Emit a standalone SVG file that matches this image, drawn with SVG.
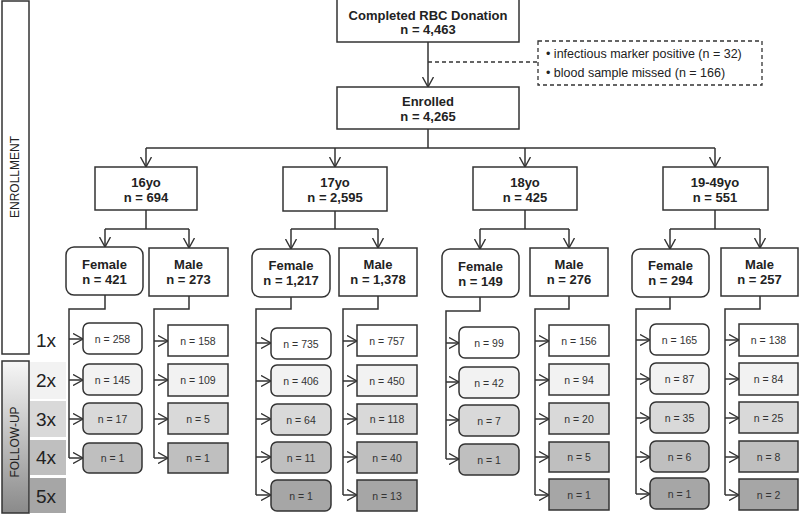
<svg xmlns="http://www.w3.org/2000/svg" width="800" height="515" viewBox="0 0 800 515">
<defs>
<marker id="arr" viewBox="0 0 10 12" refX="10" refY="6" markerWidth="10" markerHeight="12" markerUnits="userSpaceOnUse" orient="auto">
<path d="M0,0.5 L10,6 L0,11.5" fill="none" stroke="#333" stroke-width="1.4"/>
</marker>
<linearGradient id="fu" x1="0" y1="0" x2="0" y2="1">
<stop offset="0" stop-color="#f7f7f7"/>
<stop offset="1" stop-color="#8a8a8a"/>
</linearGradient>
</defs>
<style>
.box{fill:#fff;stroke:#333;stroke-width:1.5}
.r1{fill:#fff;stroke:#333;stroke-width:1.5}
.r2{fill:#f2f2f2;stroke:#333;stroke-width:1.5}
.r3{fill:#d9d9d9;stroke:#333;stroke-width:1.5}
.r4{fill:#bfbfbf;stroke:#333;stroke-width:1.5}
.r5{fill:#a6a6a6;stroke:#333;stroke-width:1.5}
.b{font-family:"Liberation Sans",Arial,sans-serif;font-weight:bold;font-size:13px;fill:#222;text-anchor:middle}
.n{font-family:"Liberation Sans",Arial,sans-serif;font-size:10.5px;fill:#333;text-anchor:middle}
.t{font-family:"Liberation Sans",Arial,sans-serif;font-size:12.5px;fill:#222}
.lbl{font-family:"Liberation Sans",Arial,sans-serif;font-size:19px;fill:#222;text-anchor:middle}
.side{font-family:"Liberation Sans",Arial,sans-serif;font-size:12px;fill:#222;text-anchor:middle}
.c{fill:none;stroke:#333;stroke-width:1.5}
.ca{fill:none;stroke:#333;stroke-width:1.5;marker-end:url(#arr)}
.d{fill:none;stroke:#333;stroke-width:1.3;stroke-dasharray:4,3}
</style>

<g id="phases">
<rect x="2" y="1" width="27" height="353" fill="#fff" stroke="#333" stroke-width="1.5"/>
<text class="side" transform="translate(19,177) rotate(-90)">ENROLLMENT</text>
<rect x="2" y="361" width="27" height="152" fill="url(#fu)" stroke="#333" stroke-width="1.5"/>
<text class="side" transform="translate(19,442) rotate(-90)">FOLLOW-UP</text>
<rect x="30" y="362" width="36" height="37" fill="#f2f2f2"/>
<rect x="30" y="401" width="36" height="36" fill="#d9d9d9"/>
<rect x="30" y="440" width="36" height="35" fill="#bfbfbf"/>
<rect x="30" y="478" width="36" height="35" fill="#a6a6a6"/>
<text class="lbl" x="46" y="347">1x</text>
<text class="lbl" x="46" y="387">2x</text>
<text class="lbl" x="46" y="426">3x</text>
<text class="lbl" x="46" y="464">4x</text>
<text class="lbl" x="46" y="503">5x</text>
</g>

<g id="connectors">
<path class="ca" d="M428,42 V87"/>
<path class="d" d="M428,62 H538"/>
<path class="c" d="M428,129 V148 M146,148 H715"/>
<path class="ca" d="M146,148 V167"/>
<path class="ca" d="M335,148 V167"/>
<path class="ca" d="M525,148 V167"/>
<path class="ca" d="M715,148 V167"/>
<path class="c" d="M146,210 V229 M105,229 H189"/>
<path class="ca" d="M105,229 V247"/><path class="ca" d="M189,229 V248"/>
<path class="c" d="M335,211 V229 M291,229 H378"/>
<path class="ca" d="M291,229 V249"/><path class="ca" d="M378,229 V248"/>
<path class="c" d="M525,210 V229 M480,229 H569"/>
<path class="ca" d="M480,229 V249"/><path class="ca" d="M569,229 V248"/>
<path class="c" d="M715,210 V229 M670,229 H760"/>
<path class="ca" d="M670,229 V249"/><path class="ca" d="M760,229 V248"/>
<path class="c" d="M105,295 V309 H69 V458"/>
<path class="ca" d="M69,339 H83"/><path class="ca" d="M69,380 H83"/><path class="ca" d="M69,419 H83"/><path class="ca" d="M69,458 H83"/>
<path class="c" d="M189,296 V309 H154 V458"/>
<path class="ca" d="M154,341 H168"/><path class="ca" d="M154,380 H168"/><path class="ca" d="M154,419 H168"/><path class="ca" d="M154,458 H168"/>
<path class="c" d="M291,297 V309 H256 V495"/>
<path class="ca" d="M256,343 H271"/><path class="ca" d="M256,381 H271"/><path class="ca" d="M256,419 H271"/><path class="ca" d="M256,457 H271"/><path class="ca" d="M256,495 H271"/>
<path class="c" d="M378,296 V309 H343 V495"/>
<path class="ca" d="M343,341 H357"/><path class="ca" d="M343,381 H357"/><path class="ca" d="M343,419 H357"/><path class="ca" d="M343,457 H357"/><path class="ca" d="M343,495 H357"/>
<path class="c" d="M480,297 V311 H446 V459"/>
<path class="ca" d="M446,343 H459"/><path class="ca" d="M446,382 H459"/><path class="ca" d="M446,420 H459"/><path class="ca" d="M446,459 H459"/>
<path class="c" d="M569,296 V309 H535 V495"/>
<path class="ca" d="M535,341 H549"/><path class="ca" d="M535,380 H549"/><path class="ca" d="M535,419 H549"/><path class="ca" d="M535,457 H549"/><path class="ca" d="M535,495 H549"/>
<path class="c" d="M670,297 V309 H636 V494"/>
<path class="ca" d="M636,340 H650"/><path class="ca" d="M636,379 H650"/><path class="ca" d="M636,418 H650"/><path class="ca" d="M636,457 H650"/><path class="ca" d="M636,494 H650"/>
<path class="c" d="M760,296 V309 H725 V495"/>
<path class="ca" d="M725,340 H739"/><path class="ca" d="M725,379 H739"/><path class="ca" d="M725,418 H739"/><path class="ca" d="M725,457 H739"/><path class="ca" d="M725,495 H739"/>
</g>

<g id="donation">
<rect class="box" x="337" y="-1" width="182" height="43"/>
<text class="b" x="428" y="19.5">Completed RBC Donation</text>
<text class="b" x="428" y="34">n = 4,463</text>
</g>
<g id="exclusions">
<rect class="d" x="538" y="41" width="224" height="44" fill="#fff"/>
<text class="t" x="546" y="58">• infectious marker positive (n = 32)</text>
<text class="t" x="546" y="77">• blood sample missed (n = 166)</text>
</g>
<g id="enrolled">
<rect class="box" x="337" y="87" width="182" height="42"/>
<text class="b" x="428" y="105.5">Enrolled</text>
<text class="b" x="428" y="120.5">n = 4,265</text>
</g>

<g id="age16">
<rect class="box" x="95" y="167" width="102" height="43"/>
<text class="b" x="146" y="186.5">16yo</text>
<text class="b" x="146" y="201.5">n = 694</text>
</g>
<g id="age17">
<rect class="box" x="283" y="167" width="104" height="44"/>
<text class="b" x="335" y="187">17yo</text>
<text class="b" x="335" y="202">n = 2,595</text>
</g>
<g id="age18">
<rect class="box" x="473" y="167" width="104" height="43"/>
<text class="b" x="525" y="186.5">18yo</text>
<text class="b" x="525" y="201.5">n = 425</text>
</g>
<g id="age19">
<rect class="box" x="663" y="167" width="105" height="43"/>
<text class="b" x="715" y="186.5">19-49yo</text>
<text class="b" x="715" y="201.5">n = 551</text>
</g>

<g id="f16">
<rect class="box" x="66" y="247" width="77" height="48" rx="8"/>
<text class="b" x="104.5" y="268.5">Female</text>
<text class="b" x="104.5" y="283.5">n = 421</text>
</g>
<g id="m16">
<rect class="box" x="149" y="248" width="79" height="48"/>
<text class="b" x="188.5" y="269">Male</text>
<text class="b" x="188.5" y="284">n = 273</text>
</g>
<g id="f17">
<rect class="box" x="252" y="249" width="78" height="48" rx="8"/>
<text class="b" x="291" y="270">Female</text>
<text class="b" x="291" y="285">n = 1,217</text>
</g>
<g id="m17">
<rect class="box" x="339" y="248" width="78" height="48"/>
<text class="b" x="378" y="269">Male</text>
<text class="b" x="378" y="284">n = 1,378</text>
</g>
<g id="f18">
<rect class="box" x="442" y="249" width="77" height="48" rx="8"/>
<text class="b" x="480.5" y="271">Female</text>
<text class="b" x="480.5" y="286">n = 149</text>
</g>
<g id="m18">
<rect class="box" x="530" y="248" width="78" height="48"/>
<text class="b" x="569" y="269">Male</text>
<text class="b" x="569" y="284">n = 276</text>
</g>
<g id="f19">
<rect class="box" x="632" y="249" width="77" height="48" rx="8"/>
<text class="b" x="670.5" y="270">Female</text>
<text class="b" x="670.5" y="285">n = 294</text>
</g>
<g id="m19">
<rect class="box" x="721" y="248" width="77" height="48"/>
<text class="b" x="759.5" y="269">Male</text>
<text class="b" x="759.5" y="284">n = 257</text>
</g>

<g id="fu-f16">
<rect class="r1" x="83" y="323" width="59" height="31" rx="6"/><text class="n" x="112.5" y="342.5">n = 258</text>
<rect class="r2" x="83" y="364" width="59" height="31" rx="6"/><text class="n" x="112.5" y="383.5">n = 145</text>
<rect class="r3" x="83" y="403" width="59" height="31" rx="6"/><text class="n" x="112.5" y="422.5">n = 17</text>
<rect class="r4" x="83" y="443" width="59" height="30" rx="6"/><text class="n" x="112.5" y="462">n = 1</text>
</g>
<g id="fu-m16">
<rect class="r1" x="168" y="325" width="60" height="31"/><text class="n" x="198" y="344.5">n = 158</text>
<rect class="r2" x="168" y="364" width="60" height="32"/><text class="n" x="198" y="384">n = 109</text>
<rect class="r3" x="168" y="403" width="60" height="31"/><text class="n" x="198" y="422.5">n = 5</text>
<rect class="r4" x="168" y="443" width="60" height="30"/><text class="n" x="198" y="462">n = 1</text>
</g>
<g id="fu-f17">
<rect class="r1" x="271" y="328" width="60" height="31" rx="6"/><text class="n" x="301" y="347.5">n = 735</text>
<rect class="r2" x="271" y="365" width="60" height="31" rx="6"/><text class="n" x="301" y="384.5">n = 406</text>
<rect class="r3" x="271" y="404" width="60" height="31" rx="6"/><text class="n" x="301" y="423.5">n = 64</text>
<rect class="r4" x="271" y="442" width="60" height="31" rx="6"/><text class="n" x="301" y="461.5">n = 11</text>
<rect class="r5" x="271" y="480" width="60" height="31" rx="6"/><text class="n" x="301" y="499.5">n = 1</text>
</g>
<g id="fu-m17">
<rect class="r1" x="357" y="325" width="60" height="31"/><text class="n" x="387" y="344.5">n = 757</text>
<rect class="r2" x="357" y="365" width="60" height="31"/><text class="n" x="387" y="384.5">n = 450</text>
<rect class="r3" x="357" y="404" width="60" height="30"/><text class="n" x="387" y="423">n = 118</text>
<rect class="r4" x="357" y="442" width="60" height="31"/><text class="n" x="387" y="461.5">n = 40</text>
<rect class="r5" x="357" y="480" width="60" height="31"/><text class="n" x="387" y="499.5">n = 13</text>
</g>
<g id="fu-f18">
<rect class="r1" x="459" y="327" width="60" height="31" rx="6"/><text class="n" x="489" y="346.5">n = 99</text>
<rect class="r2" x="459" y="367" width="60" height="31" rx="6"/><text class="n" x="489" y="386.5">n = 42</text>
<rect class="r3" x="459" y="405" width="60" height="31" rx="6"/><text class="n" x="489" y="424.5">n = 7</text>
<rect class="r4" x="459" y="444" width="60" height="31" rx="6"/><text class="n" x="489" y="463.5">n = 1</text>
</g>
<g id="fu-m18">
<rect class="r1" x="549" y="325" width="60" height="31"/><text class="n" x="579" y="344.5">n = 156</text>
<rect class="r2" x="549" y="364" width="60" height="31"/><text class="n" x="579" y="383.5">n = 94</text>
<rect class="r3" x="549" y="403" width="60" height="31"/><text class="n" x="579" y="422.5">n = 20</text>
<rect class="r4" x="549" y="442" width="60" height="30"/><text class="n" x="579" y="461">n = 5</text>
<rect class="r5" x="549" y="479" width="60" height="31"/><text class="n" x="579" y="498.5">n = 1</text>
</g>
<g id="fu-f19">
<rect class="r1" x="650" y="324" width="59" height="31" rx="6"/><text class="n" x="679.5" y="343.5">n = 165</text>
<rect class="r2" x="650" y="363" width="59" height="31" rx="6"/><text class="n" x="679.5" y="382.5">n = 87</text>
<rect class="r3" x="650" y="402" width="59" height="31" rx="6"/><text class="n" x="679.5" y="421.5">n = 35</text>
<rect class="r4" x="650" y="441" width="59" height="31" rx="6"/><text class="n" x="679.5" y="460.5">n = 6</text>
<rect class="r5" x="650" y="478" width="59" height="31" rx="6"/><text class="n" x="679.5" y="497.5">n = 1</text>
</g>
<g id="fu-m19">
<rect class="r1" x="739" y="324" width="59" height="32"/><text class="n" x="768.5" y="344">n = 138</text>
<rect class="r2" x="739" y="363" width="59" height="32"/><text class="n" x="768.5" y="383">n = 84</text>
<rect class="r3" x="739" y="402" width="59" height="31"/><text class="n" x="768.5" y="421.5">n = 25</text>
<rect class="r4" x="739" y="441" width="59" height="31"/><text class="n" x="768.5" y="460.5">n = 8</text>
<rect class="r5" x="739" y="479" width="59" height="31"/><text class="n" x="768.5" y="498.5">n = 2</text>
</g>
</svg>
